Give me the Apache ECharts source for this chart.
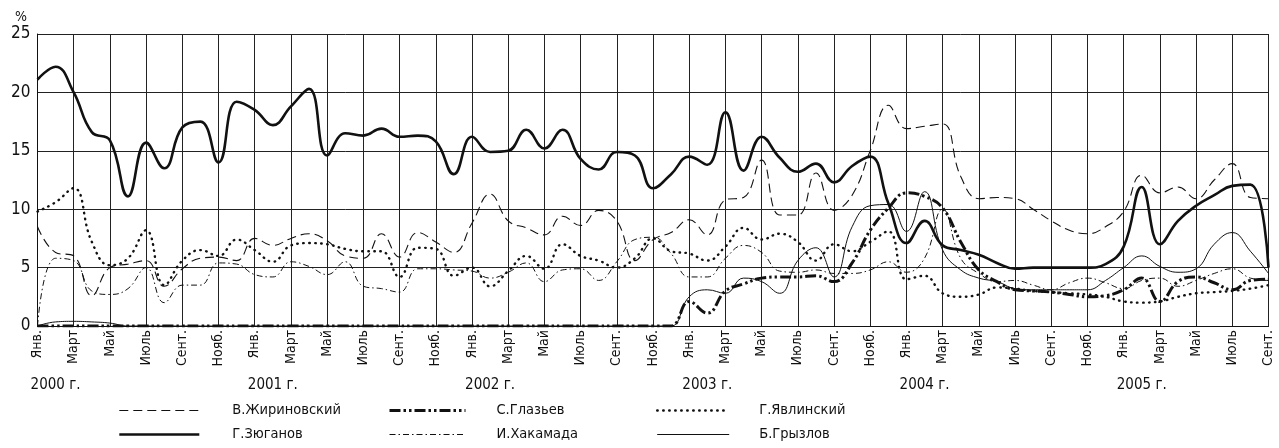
<!DOCTYPE html>
<html>
<head>
<meta charset="utf-8">
<script src="https://cdn.jsdelivr.net/npm/echarts@6/dist/echarts.min.js"></script>
<style>
html,body{margin:0;padding:0;background:#fff;}
#c{width:1279px;height:448px;}
</style>
</head>
<body>
<div id="c"></div>
<script>
const monthNames = ['Янв.','Февр.','Март','Апр.','Май','Июнь','Июль','Авг.','Сент.','Окт.','Нояб.','Дек.'];
const yearLabels = ['2000 г.','2001 г.','2002 г.','2003 г.','2004 г.','2005 г.'];
const yTicks = [0, 5, 10, 15, 20, 25];

const zhirinovsky = [8.5,6.3,6.0,2.6,5.0,5.3,5.6,3.4,4.9,5.8, 5.9,5.6,7.5,6.9,7.5,7.9,7.3,6.0,5.8,7.9,
  5.9,8.0,7.2,6.3,8.8,11.3,9.0,8.4,7.8,9.4, 8.6,9.9,9.0,5.6,7.4,8.0,9.1,7.8,10.8,11.0,
  14.2,9.5,9.5,13.1,9.9,11.2,15.0,18.9,16.9,17.1, 17.3,12.8,10.9,11.0,10.9,10.0,9.0,8.2,7.9,8.5,
  9.8,12.9,11.4,11.9,10.9,12.5,13.9,11.0,10.9];
const zyuganov = [21.1,22.2,20.0,16.6,15.9,11.1,15.7,13.5,17.0,17.5, 14.0,19.2,18.5,17.2,18.8,20.3,14.6,16.5,16.3,16.9,
  16.2,16.3,15.8,13.0,16.2,14.9,15.0,16.8,15.2,16.8, 14.3,13.4,14.9,14.6,11.8,13.0,14.5,13.8,18.3,13.3,
  16.2,14.4,13.2,13.9,12.3,13.7,14.5,10.5,7.1,9.0, 6.9,6.5,6.1,5.4,4.9,5.0,5.0,5.0,5.0,5.3,
  6.8,11.9,7.0,9.0,10.3,11.2,12.0,12.1,5.0];
const glazyev = [0,0,0,0,0,0,0,0,0,0, 0,0,0,0,0,0,0,0,0,0,
  0,0,0,0,0,0,0,0,0,0, 0,0,0,0,0,0,2.1,1.1,3.0,3.6,
  4.1,4.2,4.2,4.3,3.8,5.4,8.2,10.1,11.4,11.1, 10.1,7.2,4.8,3.8,3.1,3.0,2.9,2.7,2.5,2.6,
  3.1,4.1,2.1,3.8,4.2,3.7,3.1,3.9,4.0];
const khakamada = [0,5.8,5.6,3.0,2.7,3.2,5.0,2.0,3.5,3.5, 5.4,5.3,4.4,4.2,5.5,5.1,4.4,5.5,3.4,3.2,
  2.9,4.9,4.9,4.8,4.7,4.1,4.6,5.4,3.8,4.8, 4.9,3.9,5.5,7.4,7.6,6.2,4.2,4.2,5.8,6.9,
  6.3,4.7,4.6,4.8,4.5,4.5,4.8,5.5,4.6,5.8, 10.0,5.8,4.5,3.8,3.9,3.5,3.1,3.7,4.1,3.7,
  3.2,3.9,4.1,3.4,3.9,4.5,4.9,4.1,3.9];
const yavlinsky = [9.8,10.6,11.8,7.2,5.2,5.8,8.2,3.5,5.6,6.5, 6.0,7.4,6.5,5.5,6.9,7.1,7.0,6.6,6.4,6.4,
  4.2,6.7,6.6,4.3,5.0,3.4,4.7,6.0,4.9,7.0, 6.0,5.6,5.0,5.8,7.5,6.4,6.2,5.6,6.8,8.4,
  7.4,7.9,7.2,5.6,7.0,6.4,7.2,8.1,4.0,4.3, 2.8,2.5,2.7,3.3,3.2,3.0,2.9,2.8,2.7,2.5,
  2.1,2.0,2.1,2.5,2.8,2.9,3.0,3.2,3.5];
const gryzlov = [0,0.35,0.4,0.35,0.25,0,0,0,0,0, 0,0,0,0,0,0,0,0,0,0,
  0,0,0,0,0,0,0,0,0,0, 0,0,0,0,0,0,2.5,3.1,2.8,4.1,
  3.8,2.8,5.6,6.7,4.2,8.5,10.3,10.4,8.1,11.5, 6.5,4.8,4.1,3.8,3.2,3.1,3.1,3.1,3.1,3.9,
  5.0,6.0,5.1,4.6,4.9,7.0,8.0,6.4,4.5];

const N = zyuganov.length;
const categories = [];
const yearCategories = [];
for (let i = 0; i < N; i++) {
  categories.push(monthNames[i % 12]);
  yearCategories.push(i % 12 === 1 ? yearLabels[Math.floor(i / 12)] : '');
}

const FONT = "'Liberation Sans Narrow','Arial Narrow','DejaVu Sans Condensed',sans-serif";
const INK = '#111';

function mk(name, data, lineStyle, z) {
  return {name, type:'line', data, smooth:0.45, symbol:'none', z:z||2,
    lineStyle:Object.assign({color:INK}, lineStyle), itemStyle:{color:INK}, animation:false};
}
function lg(names, left, w, pad) {
  return {data:names, orient:'vertical', left, top:403, padding:0, itemWidth:w, itemHeight:12, itemGap:9,
    itemStyle:{opacity:0},
    lineStyle:{width:'inherit', type:'inherit', cap:'inherit'},
    textStyle:{fontSize:14.5, fontFamily:FONT, color:INK, padding:[0,0,0,pad]}};
}

const chart = echarts.init(document.getElementById('c'), null, {renderer:'canvas'});
chart.setOption({
  backgroundColor:'#fff',
  animation:false,
  grid:{left:37.5, right:10.5, top:34, bottom:122},
  graphic:[{type:'text', left:15, top:10, style:{text:'%', font:"14px " + FONT, fill:INK}}],
  xAxis:[{
    type:'category', data:categories, boundaryGap:false,
    axisLine:{lineStyle:{color:INK, width:1}},
    axisTick:{show:false},
    axisLabel:{interval:1, rotate:90, margin:4, fontSize:14, fontFamily:FONT, color:INK},
    splitLine:{show:true, interval:1, lineStyle:{color:'#222', width:1}}
  },{
    type:'category', data:yearCategories, boundaryGap:false, position:'bottom', offset:52,
    axisLine:{show:false}, axisTick:{show:false}, splitLine:{show:false},
    axisLabel:{interval:0, margin:0, fontSize:15, fontFamily:FONT, color:INK}
  }],
  yAxis:{
    type:'value', min:yTicks[0], max:yTicks[yTicks.length-1], interval:5,
    axisLine:{show:true, lineStyle:{color:INK, width:1}},
    axisTick:{show:false},
    axisLabel:{margin:7, fontSize:17, fontFamily:FONT, color:INK},
    splitLine:{show:true, lineStyle:{color:'#222', width:1}}
  },
  legend:[
    lg(['В.Жириновский','Г.Зюганов'], 118, 80, 28),
    lg(['С.Глазьев','И.Хакамада'], 388, 76, 26),
    lg(['Г.Явлинский','Б.Грызлов'], 656, 72, 25)
  ],
  series:[
    mk('В.Жириновский', zhirinovsky, {width:1.1, type:[9,5]}, 2),
    mk('Г.Зюганов', zyuganov, {width:2.6, type:'solid'}, 6),
    mk('С.Глазьев', glazyev, {width:3, type:[11,3,2.5,3,2.5,3]}, 5),
    mk('И.Хакамада', khakamada, {width:1, type:[6,3,1.5,3]}, 3),
    mk('Г.Явлинский', yavlinsky, {width:2.4, type:[0.5,5.5], cap:'round'}, 4),
    mk('Б.Грызлов', gryzlov, {width:1, type:'solid'}, 3)
  ]
});
</script>
</body>
</html>
